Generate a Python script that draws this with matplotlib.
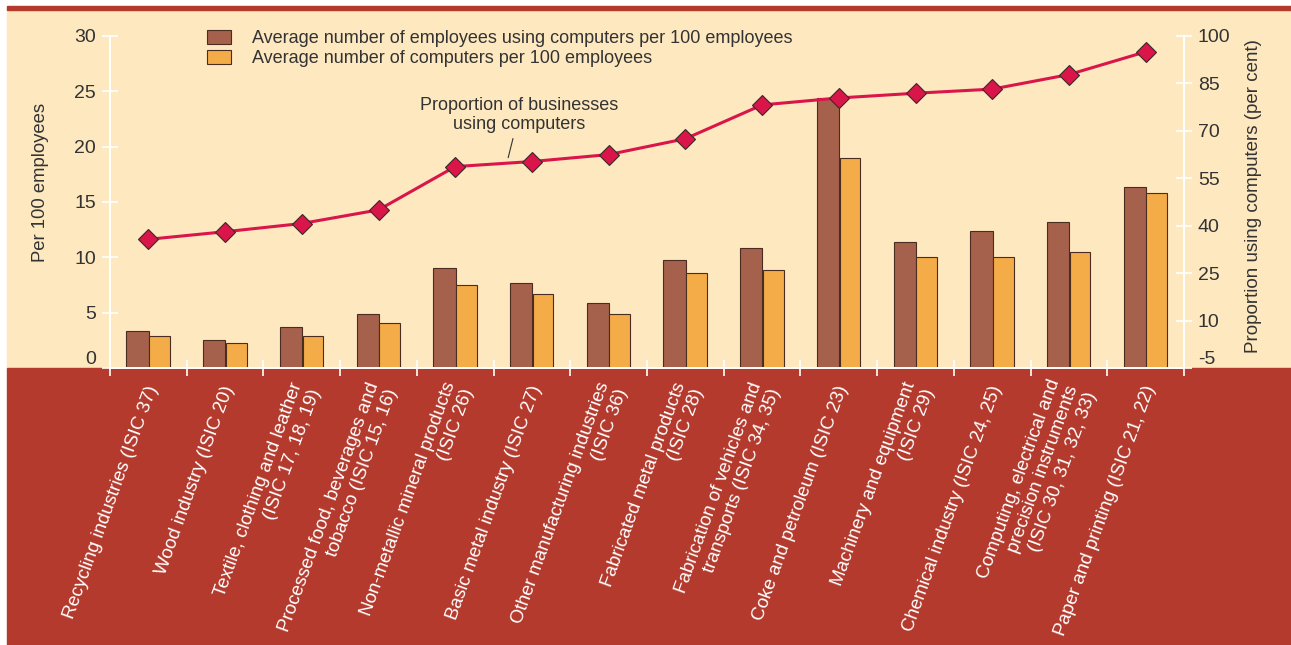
import numpy as np
import matplotlib
matplotlib.use("Agg")
import matplotlib.pyplot as plt
from matplotlib.patches import Rectangle

plt.rcParams['font.family'] = ['Liberation Sans', 'DejaVu Sans']
plt.rcParams['axes.unicode_minus'] = False

categories = [
    "Recycling industries (ISIC 37)",
    "Wood industry (ISIC 20)",
    "Textile, clothing and leather\n(ISIC 17, 18, 19)",
    "Processed food, beverages and\ntobacco (ISIC 15, 16)",
    "Non-metallic mineral products\n(ISIC 26)",
    "Basic metal industry (ISIC 27)",
    "Other manufacturing industries\n(ISIC 36)",
    "Fabricated metal products\n(ISIC 28)",
    "Fabrication of vehicles and\ntransports (ISIC 34, 35)",
    "Coke and petroleum (ISIC 23)",
    "Machinery and equipment\n(ISIC 29)",
    "Chemical industry (ISIC 24, 25)",
    "Computing, electrical and\nprecision instruments\n(ISIC 30, 31, 32, 33)",
    "Paper and printing (ISIC 21, 22)",
]
employees_using = [3.3, 2.5, 3.7, 4.9, 9.0, 7.7, 5.9, 9.8, 10.8, 24.4, 11.4, 12.4, 13.2, 16.35]
computers = [2.9, 2.3, 2.9, 4.1, 7.5, 6.7, 4.9, 8.6, 8.9, 19.0, 10.0, 10.0, 10.45, 15.8]
prop_businesses = [35.7, 38.1, 40.7, 45.0, 58.7, 60.3, 62.5, 67.5, 78.2, 80.4, 81.9, 83.2, 87.8, 95.0]
left_ticks = [0, 5, 10, 15, 20, 25, 30]
right_ticks = [-5, 10, 25, 40, 55, 70, 85, 100]

W, H = 1291, 645
cream = '#fde8bf'
band = '#b33a2d'
brown = '#a5614b'
orange = '#f3ac48'
crimson = '#d9154a'
txt = '#333333'

fig = plt.figure(figsize=(W / 100, H / 100), dpi=100, facecolor='white')

# background panels on an axes behind everything (pixel coords)
bg = fig.add_axes([0, 0, 1, 1], zorder=-10)
bg.set_xlim(0, W)
bg.set_ylim(H, 0)
bg.axis('off')
bg.add_patch(Rectangle((7, 9), W, 368 - 9, color=cream))
bg.add_patch(Rectangle((7, 368), W, H - 368, color=band))
bg.add_patch(Rectangle((7, 6), W, 4, color=band))

ax = fig.add_axes([110 / W, (H - 368) / H, (1184 - 110) / W, (368 - 36) / H])
ax.set_facecolor('none')
x = np.arange(len(categories))

ax.bar(x - 0.14, employees_using, width=0.29, color=brown, edgecolor='#4a2c22',
       linewidth=0.8, label='Average number of employees using computers per 100 employees', zorder=2)
ax.bar(x + 0.145, computers, width=0.27, color=orange, edgecolor='#4a2c22',
       linewidth=0.8, label='Average number of computers per 100 employees', zorder=2)

ax.set_xlim(-0.5, len(categories) - 0.5)
ax.set_ylim(0, 30)
ax.set_yticks(left_ticks)
ax.set_ylabel('Per 100 employees', fontsize=13.3, color=txt)
ax.yaxis.set_label_coords(-0.057, 0.56)

ax.spines['top'].set_visible(False)
for s in ['left', 'right', 'bottom']:
    ax.spines[s].set_color('white')
    ax.spines[s].set_linewidth(1.2)

ax.tick_params(axis='y', direction='inout', length=12, width=1.2, color='white',
               labelsize=14, labelcolor=txt, pad=4)
ax.set_xticks(np.arange(len(categories) + 1) - 0.5)
ax.set_xticklabels([])
ax.set_xticks(x + 0.06, minor=True)
ax.set_xticklabels(categories, minor=True, rotation=70, ha='right', va='center',
                   rotation_mode='anchor', color='white', fontsize=13.5, linespacing=1.2)
ax.tick_params(axis='x', which='major', direction='inout', length=12, width=1.2, color='white')
ax.tick_params(axis='x', which='minor', length=0, pad=13)

ax2 = ax.twinx()
ax2.set_ylim(-5, 100)
ax2.set_yticks(right_ticks)
ax2.spines['top'].set_visible(False)
for s in ['left', 'right', 'bottom']:
    ax2.spines[s].set_color('white')
    ax2.spines[s].set_linewidth(1.2)
ax2.tick_params(axis='y', direction='inout', length=12, width=1.2, color='white',
                labelsize=14, labelcolor=txt, pad=4)
ax2.set_ylabel('Proportion using computers (per cent)', fontsize=13.5, color=txt)
ax2.yaxis.set_label_coords(1.057, 0.518)

# lowest labels sit just above the red band
ax.get_yticklabels()[0].set_verticalalignment('bottom')
ax2.get_yticklabels()[0].set_verticalalignment('bottom')

ax2.plot(x, prop_businesses, color=crimson, linewidth=2.2, marker='D', markersize=10.5,
         markerfacecolor=crimson, markeredgecolor='#3a2a2a', markeredgewidth=0.8, zorder=3)
ax2.annotate('Proportion of businesses\nusing computers', xy=(4.69, 61.5), xytext=(4.83, 75),
             ha='center', va='center', fontsize=13, color=txt, linespacing=1.15,
             arrowprops=dict(arrowstyle='-', color=txt, lw=0.8, shrinkA=2, shrinkB=0))

h, l = ax.get_legend_handles_labels()
leg = ax2.legend(h, l, loc='upper left', bbox_to_anchor=(207 / W, (H - 30) / H),
                 bbox_transform=fig.transFigure, frameon=False, fontsize=13,
                 handlelength=1.33, handleheight=0.83, handletextpad=1.17,
                 labelspacing=0.12, borderpad=0, borderaxespad=0, labelcolor=txt)

fig.savefig('out.png', dpi=100, facecolor=fig.get_facecolor())
